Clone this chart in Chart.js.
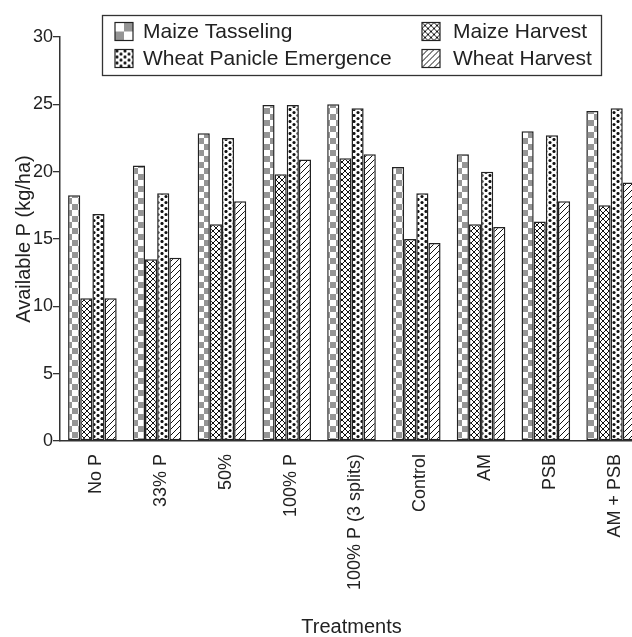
<!DOCTYPE html>
<html>
<head>
<meta charset="utf-8">
<script src="https://cdn.jsdelivr.net/npm/chart.js@4.4.1/dist/chart.umd.min.js"></script>
<style>
  html, body { margin: 0; padding: 0; background: #fff; overflow: hidden; }
  #wrap { width: 632px; height: 637px; overflow: hidden; position: relative; }
  canvas { display: block; }
</style>
</head>
<body>
<div id="wrap"><canvas id="c" width="660" height="637"></canvas></div>
<script>
const categories = ["No P", "33% P", "50%", "100% P", "100% P (3 splits)", "Control", "AM", "PSB", "AM + PSB"];
const seriesNames = ["Maize Tasseling", "Maize Harvest", "Wheat Panicle Emergence", "Wheat Harvest"];
const maizeTasseling = [18.25, 20.45, 22.85, 24.95, 25.0, 20.35, 21.3, 23.0, 24.5];
const maizeHarvest = [10.6, 13.5, 16.1, 19.8, 21.0, 15.0, 16.1, 16.3, 17.5];
const wheatPanicle = [16.85, 18.4, 22.5, 24.95, 24.7, 18.4, 20.0, 22.7, 24.7];
const wheatHarvest = [10.6, 13.6, 17.8, 20.9, 21.3, 14.7, 15.9, 17.8, 19.2];
const yTicks = [0, 5, 10, 15, 20, 25, 30];

const FONT = "'Liberation Sans', Arial, Helvetica, sans-serif";
const INK = '#222';

function makePattern(kind) {
  const c = document.createElement('canvas');
  const g = c.getContext('2d');
  if (kind === 'checker') {
    c.width = 12; c.height = 12;
    g.fillStyle = '#fff'; g.fillRect(0, 0, 12, 12);
    g.fillStyle = '#959595';
    g.fillRect(0, 0, 6, 6); g.fillRect(6, 6, 6, 6);
  } else if (kind === 'checkerBig') {
    c.width = 18; c.height = 18;
    g.fillStyle = '#fff'; g.fillRect(0, 0, 18, 18);
    g.fillStyle = '#959595';
    g.fillRect(9, 0, 9, 9); g.fillRect(0, 9, 9, 9);
  } else if (kind === 'cross') {
    c.width = 6; c.height = 6;
    g.fillStyle = '#fff'; g.fillRect(0, 0, 6, 6);
    g.strokeStyle = '#111'; g.lineWidth = 1;
    g.beginPath();
    g.moveTo(0, 0); g.lineTo(6, 6);
    g.moveTo(6, 0); g.lineTo(0, 6);
    g.stroke();
  } else if (kind === 'dots') {
    c.width = 8; c.height = 6;
    g.fillStyle = '#fff'; g.fillRect(0, 0, 8, 6);
    g.fillStyle = '#111';
    const pts = [[2, 1.5], [6, 4.5]];
    for (const [x, y] of pts) { g.beginPath(); g.arc(x, y, 1.55, 0, Math.PI * 2); g.fill(); }
  } else if (kind === 'diag') {
    c.width = 6; c.height = 6;
    g.fillStyle = '#fff'; g.fillRect(0, 0, 6, 6);
    g.strokeStyle = '#111'; g.lineWidth = 1;
    g.beginPath();
    g.moveTo(-1, 7); g.lineTo(7, -1);
    g.moveTo(-1, 1); g.lineTo(1, -1);
    g.moveTo(5, 7); g.lineTo(7, 5);
    g.stroke();
  }
  return g.createPattern(c, 'repeat');
}

const ctx = document.getElementById('c').getContext('2d');
const patterns = [makePattern('checker'), makePattern('cross'), makePattern('dots'), makePattern('diag')];
const swatchPatterns = [makePattern('checkerBig'), patterns[1], patterns[2], patterns[3]];
const seriesData = [maizeTasseling, maizeHarvest, wheatPanicle, wheatHarvest];

const legendPlugin = {
  id: 'boxLegend',
  afterDraw(chart) {
    const g = chart.ctx;
    const ca = chart.chartArea;
    const cx = (ca.left + ca.right) / 2;
    const w = 499, h = 60;
    const x0 = Math.round(cx - w / 2) + 0.5, y0 = 15.5;
    g.save();
    g.fillStyle = '#fff';
    g.fillRect(x0, y0, w, h);
    g.strokeStyle = '#333'; g.lineWidth = 1.3;
    g.strokeRect(x0, y0, w, h);
    const cols = [x0 + 12.5, x0 + 319.5];
    const textOff = [28, 31];
    const rows = [y0 + 7, y0 + 34];
    const order = [[0, 0, 0], [1, 1, 0], [2, 0, 1], [3, 1, 1]];
    g.font = '21px ' + FONT;
    g.textBaseline = 'middle';
    g.textAlign = 'left';
    for (const [i, ci, ri] of order) {
      const sx = cols[ci], sy = rows[ri];
      g.save();
      g.translate(sx, sy);
      g.fillStyle = swatchPatterns[i];
      g.fillRect(0, 0, 18, 18);
      g.restore();
      g.strokeStyle = '#222'; g.lineWidth = 1.2;
      g.strokeRect(sx, sy, 18, 18);
      g.fillStyle = INK;
      g.fillText(seriesNames[i], sx + textOff[ci], sy + 10);
    }
    g.restore();
  }
};

new Chart(ctx, {
  type: 'bar',
  data: {
    labels: categories,
    datasets: seriesNames.map((name, i) => ({
      label: name,
      data: seriesData[i],
      backgroundColor: patterns[i],
      borderColor: '#222',
      borderWidth: 1.5,
      borderSkipped: false,
      categoryPercentage: 0.75,
      barPercentage: 1.0
    }))
  },
  options: {
    responsive: false,
    animation: false,
    devicePixelRatio: 1,
    layout: { padding: { top: 37, right: 17, bottom: 0, left: 0 } },
    plugins: {
      legend: { display: false },
      tooltip: { enabled: false }
    },
    scales: {
      x: {
        grid: { display: false, drawTicks: false },
        border: { display: true, color: '#333', width: 1.5 },
        ticks: {
          color: INK,
          font: { family: FONT, size: 18 },
          maxRotation: 90, minRotation: 90,
          padding: 13,
          labelOffset: 4,
          autoSkip: false
        },
        title: {
          display: true, text: 'Treatments', color: INK,
          font: { family: FONT, size: 20, lineHeight: 1.0 },
          padding: { top: 0, bottom: 0 }
        },
        afterFit(scale) { scale.height = 196; }
      },
      y: {
        min: 0, max: 30,
        afterBuildTicks(scale) { scale.ticks = yTicks.map(v => ({ value: v })); },
        grid: { display: true, drawOnChartArea: false, drawTicks: true, tickLength: 7, color: '#333', lineWidth: 1.3 },
        border: { display: true, color: '#333', width: 1.5 },
        ticks: {
          color: INK,
          font: { family: FONT, size: 18 },
          padding: 0
        },
        title: {
          display: true, text: 'Available P (kg/ha)', color: INK,
          font: { family: FONT, size: 20, lineHeight: 1.2 },
          padding: { top: 12, bottom: 0 }
        },
        afterFit(scale) { scale.width = 60; }
      }
    }
  },
  plugins: [legendPlugin]
});
</script>
</body>
</html>
